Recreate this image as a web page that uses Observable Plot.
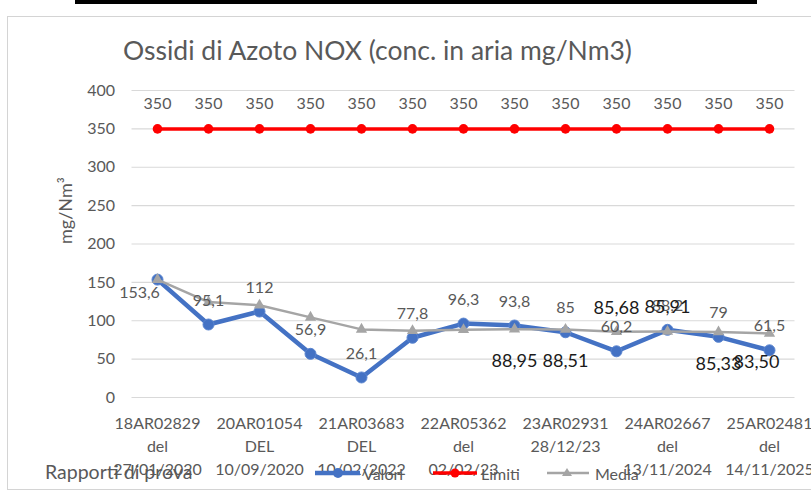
<!DOCTYPE html>
<html>
<head>
<meta charset="utf-8">
<script src="https://cdn.jsdelivr.net/npm/d3@7"></script>
<script src="https://cdn.jsdelivr.net/npm/@observablehq/plot@0.6"></script>
<style>
  body { margin: 0; background: #fff; font-family: Lato, "Open Sans", sans-serif; }
  #wrap { position: relative; width: 811px; height: 498px; overflow: hidden; background: #fff; }
  #topbar { position: absolute; left: 75px; top: 0; width: 682px; height: 4px; background: #000; }
  #frame { position: absolute; left: 7px; top: 16px; width: 900px; height: 474px; border: 1px solid #d4d4d4; box-sizing: border-box; }
  #chart { position: absolute; left: 0; top: 0; }
  #title { position: absolute; left: 123px; top: 35px; font-size: 26.5px; line-height: 30px; color: #595959; white-space: nowrap; }
  #xtitle { position: absolute; left: 45px; top: 459px; font-size: 19.5px; line-height: 26px; color: #595959; white-space: nowrap; }
  .leg { position: absolute; top: 462px; height: 22px; display: flex; align-items: center; font-size: 16px; color: #595959; white-space: nowrap; }
  .leg svg { display: block; margin-right: 2px; }
</style>
</head>
<body>
<div id="wrap">
  <div id="frame"></div>
  <div id="topbar"></div>
  <div id="title">Ossidi di Azoto NOX (conc. in aria mg/Nm3)</div>
  <div id="chart"></div>
  <div id="xtitle">Rapporti di prova</div>
  <div id="legend"></div>
</div>
<script>
// ---- Data ----
const valori = [153.6, 95.1, 112, 56.9, 26.1, 77.8, 96.3, 93.8, 85, 60.2, 88.2, 79, 61.5];
const limiti = [350, 350, 350, 350, 350, 350, 350, 350, 350, 350, 350, 350, 350];
const media  = [153.6, 124.35, 120.23, 104.4, 88.74, 86.92, 88.26, 88.95, 88.51, 85.68, 85.91, 85.33, 83.50];
const mediaLabelIndex = [7, 8, 9, 10, 11, 12];
const tickIndex = [0, 2, 4, 6, 8, 10, 12];
const tickLabels = [
  "18AR02829\ndel\n27/01/2020",
  "20AR01054\nDEL\n10/09/2020",
  "21AR03683\nDEL\n10/02/2022",
  "22AR05362\ndel\n02/02/23",
  "23AR02931\n28/12/23",
  "24AR02667\ndel\n13/11/2024",
  "25AR02481\ndel\n14/11/2025"
];
const yTicks = [0, 50, 100, 150, 200, 250, 300, 350, 400];
const seriesNames = ["Valori", "Limiti", "Media"];
const colors = {Valori: "#4472C4", Limiti: "#FF0000", Media: "#A5A5A5"};

const rows = valori.map((v, i) => ({i, valore: v, limite: limiti[i], media: media[i]}));
const comma = (v) => String(v).replace(".", ",");
const comma2 = (v) => v.toFixed(2).replace(".", ",");
const mediaRows = rows.filter(d => mediaLabelIndex.includes(d.i));
const above = new Set([9, 10]);

const chart = Plot.plot({
  width: 811,
  height: 498,
  marginLeft: 131.5,
  marginRight: 16.5,
  marginTop: 90,
  marginBottom: 101,
  style: {fontFamily: "Lato, 'Open Sans', sans-serif", background: "transparent", overflow: "visible"},
  x: {type: "point", domain: rows.map(d => d.i), padding: 0.5, axis: null},
  y: {domain: [0, 400], axis: null},
  marks: [
    Plot.gridY(yTicks, {stroke: "#d9d9d9", strokeOpacity: 1, strokeWidth: 1.2}),
    Plot.axisY(yTicks, {tickSize: 0, tickPadding: 17, fontSize: 16, fill: "#595959", label: null}),
    Plot.text(["mg/Nm³"], {frameAnchor: "left", dx: -66, rotate: -90, fontSize: 18, fill: "#595959"}),
    Plot.text(tickIndex, {x: d => d, text: (d, i) => tickLabels[i], frameAnchor: "bottom", lineAnchor: "top", dy: 15, lineHeight: 1.43, fontSize: 16, fill: "#595959"}),
    // Valori
    Plot.line(rows, {x: "i", y: "valore", stroke: colors.Valori, strokeWidth: 4.5, strokeLinejoin: "round"}),
    Plot.dot(rows, {x: "i", y: "valore", r: 5.5, fill: colors.Valori, stroke: "#5a85d0", strokeWidth: 1}),
    // Limiti
    Plot.line(rows, {x: "i", y: "limite", stroke: colors.Limiti, strokeWidth: 3.5}),
    Plot.dot(rows, {x: "i", y: "limite", r: 4.8, fill: colors.Limiti}),
    // Media
    Plot.line(rows, {x: "i", y: "media", stroke: colors.Media, strokeWidth: 2.5}),
    Plot.dot(rows, {x: "i", y: "media", symbol: "triangle", r: 4.2, fill: colors.Media}),
    // labels
    Plot.text(rows, {x: "i", y: "limite", text: d => comma(d.limite), dy: -25, fontSize: 16, fill: "#595959"}),
    Plot.text(rows.filter(d => d.i === 0), {x: "i", y: "valore", text: d => comma(d.valore), dx: -18, dy: 13, fontSize: 16, fill: "#595959"}),
    Plot.text(rows.filter(d => d.i !== 0), {x: "i", y: "valore", text: d => comma(d.valore), dy: -24, fontSize: 16, fill: "#595959"}),
    Plot.text(mediaRows.filter(d => above.has(d.i)), {x: "i", y: "media", text: d => comma2(d.media), dy: -24, fontSize: 18, fill: "#1a1a1a"}),
    Plot.text(mediaRows.filter(d => !above.has(d.i) && d.i !== 12), {x: "i", y: "media", text: d => comma2(d.media), dy: 32, fontSize: 18, fill: "#1a1a1a"}),
    Plot.text(mediaRows.filter(d => d.i === 12), {x: "i", y: "media", text: d => comma2(d.media), dx: -13, dy: 29, fontSize: 18, fill: "#1a1a1a"})
  ]
});
document.getElementById("chart").appendChild(chart);

// Legend
const legend = document.getElementById("legend");
const legPos = {Valori: 315, Limiti: 433, Media: 547};
for (const name of seriesNames) {
  const item = document.createElement("div");
  item.className = "leg";
  item.style.left = legPos[name] + "px";
  const c = colors[name];
  let marker;
  if (name === "Valori") marker = `<line x1="0" y1="11" x2="45" y2="11" stroke="${c}" stroke-width="4.5"/><circle cx="23" cy="11" r="5" fill="${c}"/>`;
  else if (name === "Limiti") marker = `<line x1="0" y1="11" x2="44" y2="11" stroke="${c}" stroke-width="3.5"/><circle cx="22" cy="11" r="4.5" fill="${c}"/>`;
  else marker = `<line x1="0" y1="11" x2="42" y2="11" stroke="${c}" stroke-width="2.5"/><path d="M20,6 L25,14 L15,14 Z" fill="${c}"/>`;
  item.innerHTML = `<svg width="46" height="22">${marker}</svg><span>${name}</span>`;
  legend.appendChild(item);
}
</script>
</body>
</html>
